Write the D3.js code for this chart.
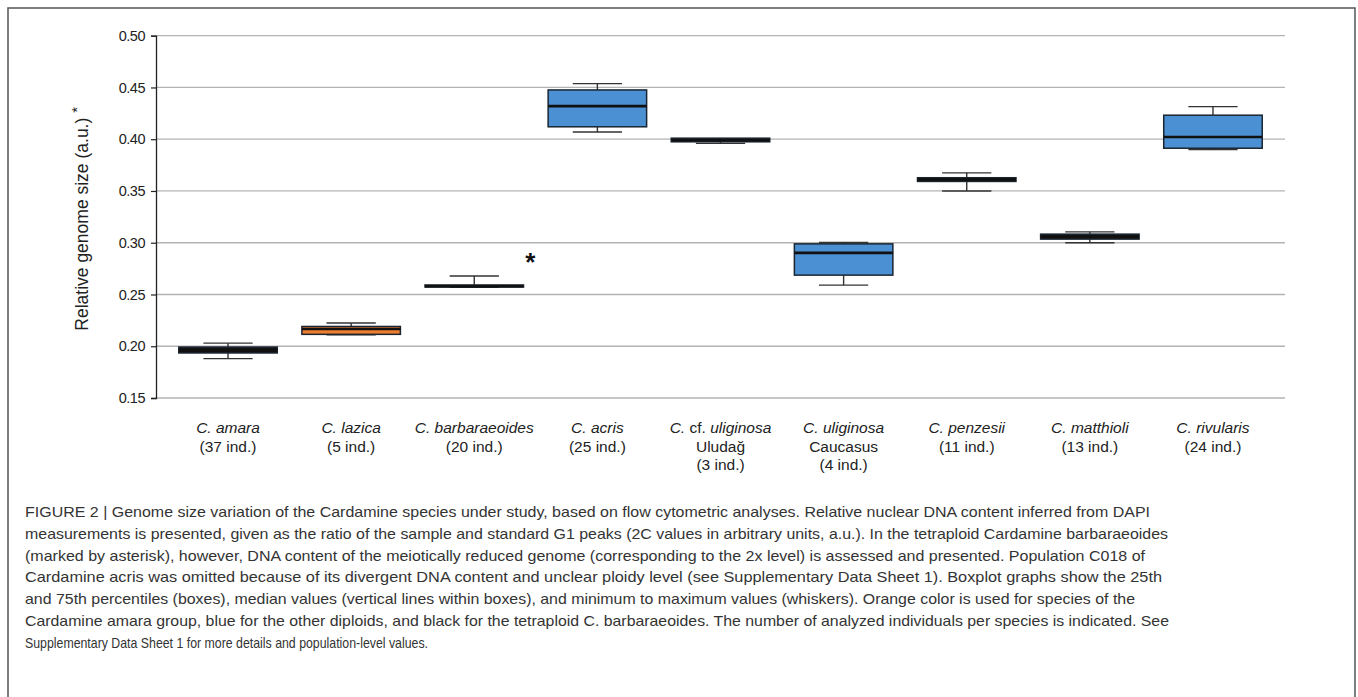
<!DOCTYPE html>
<html>
<head>
<meta charset="utf-8">
<script src="https://cdn.jsdelivr.net/npm/d3@7"></script>
<style>
  body { margin: 0; background: #fff; }
  svg { display: block; font-family: "Liberation Sans", Arial, sans-serif; }
</style>
</head>
<body>
<div id="chart"></div>
<script>
// species in plot order, with label lines below the axis
const species = ["amara", "lazica", "barbaraeoides", "acris", "uludag", "caucasus", "penzesii", "matthioli", "rivularis"];
const nameLines = [
  [["C. amara", true]],
  [["C. lazica", true]],
  [["C. barbaraeoides", true]],
  [["C. acris", true]],
  [["C. ", true], ["cf. ", false], ["uliginosa", true]],
  [["C. uliginosa", true]],
  [["C. penzesii", true]],
  [["C. matthioli", true]],
  [["C. rivularis", true]]
];
const regionLine = ["", "", "", "", "Uludağ", "Caucasus", "", "", ""];
const nInd = [37, 5, 20, 25, 3, 4, 11, 13, 24];

// boxplot values (a.u.)
const minVals = [0.188, 0.211, 0.257, 0.407, 0.396, 0.259, 0.350, 0.300, 0.390];
const q1Vals  = [0.1935, 0.2115, 0.2572, 0.412, 0.3975, 0.2687, 0.3592, 0.3035, 0.3913];
const medVals = [0.196, 0.2166, 0.258, 0.432, 0.399, 0.2902, 0.361, 0.306, 0.4022];
const q3Vals  = [0.1992, 0.2191, 0.2592, 0.4476, 0.401, 0.2989, 0.3628, 0.3083, 0.4232];
const maxVals = [0.203, 0.2224, 0.2678, 0.4537, 0.4005, 0.3002, 0.3675, 0.3105, 0.4315];
const boxFill = ["#111111", "#ED7D31", "#111111", "#4A90D2", "#111111", "#4A90D2", "#111111", "#111111", "#4A90D2"];

const yTicks = [0.15, 0.20, 0.25, 0.30, 0.35, 0.40, 0.45, 0.50];

const captionLines = [
  "FIGURE 2 | Genome size variation of the Cardamine species under study, based on flow cytometric analyses. Relative nuclear DNA content inferred from DAPI",
  "measurements is presented, given as the ratio of the sample and standard G1 peaks (2C values in arbitrary units, a.u.). In the tetraploid Cardamine barbaraeoides",
  "(marked by asterisk), however, DNA content of the meiotically reduced genome (corresponding to the 2x level) is assessed and presented. Population C018 of",
  "Cardamine acris was omitted because of its divergent DNA content and unclear ploidy level (see Supplementary Data Sheet 1). Boxplot graphs show the 25th",
  "and 75th percentiles (boxes), median values (vertical lines within boxes), and minimum to maximum values (whiskers). Orange color is used for species of the",
  "Cardamine amara group, blue for the other diploids, and black for the tetraploid C. barbaraeoides. The number of analyzed individuals per species is indicated. See",
  "Supplementary Data Sheet 1 for more details and population-level values."
];
// rendered widths of the caption lines
const captionWidths = [1125, 1143, 1120, 1137, 1110, 1144, 403];

const W = 1358, H = 697;
const plot = {left: 156, right: 1285, top: 35.7, bottom: 398};

const svg = d3.select("#chart").append("svg")
    .attr("width", W)
    .attr("height", H);

// outer frame
svg.append("rect")
    .attr("x", 8).attr("y", 8)
    .attr("width", 1347).attr("height", 700)
    .attr("fill", "none")
    .attr("stroke", "#555")
    .attr("stroke-width", 1.5);

const x = d3.scaleBand()
    .domain(species)
    .range([plot.left, plot.right])
    .paddingInner(0)
    .paddingOuter(0.085);

const y = d3.scaleLinear()
    .domain([0.15, 0.50])
    .range([plot.bottom, plot.top]);

// gridlines
svg.append("g")
    .selectAll("line")
    .data(yTicks)
    .join("line")
    .attr("x1", plot.left)
    .attr("x2", plot.right)
    .attr("y1", d => y(d))
    .attr("y2", d => y(d))
    .attr("stroke", "#b3b3b3")
    .attr("stroke-width", 1.3);

// y axis
const yAxis = svg.append("g")
    .attr("transform", `translate(${plot.left},0)`)
    .call(d3.axisLeft(y).tickValues(yTicks).tickFormat(d3.format(".2f")).tickSize(5).tickPadding(6));
yAxis.select(".domain").attr("stroke", "#222").attr("stroke-width", 1.3);
yAxis.selectAll(".tick line").attr("stroke", "#222").attr("stroke-width", 1.2);
yAxis.selectAll(".tick text")
    .attr("font-size", 14.5)
    .attr("letter-spacing", -0.5)
    .attr("fill", "#222")
    .attr("font-family", "'Liberation Sans', Arial, sans-serif");

// y title
svg.append("text")
    .attr("transform", `translate(88,${(plot.top + plot.bottom) / 2 + 2}) rotate(-90)`)
    .attr("text-anchor", "middle")
    .attr("font-size", 17.5)
    .attr("fill", "#222")
    .text("Relative genome size (a.u.) ")
    .append("tspan")
    .attr("dy", -6)
    .attr("font-size", 15)
    .text("*");

// boxes
const data = species.map((s, i) => ({
  s, min: minVals[i], q1: q1Vals[i], med: medVals[i], q3: q3Vals[i], max: maxVals[i], fill: boxFill[i]
}));

const bw = x.bandwidth() * 0.8;
const cw = x.bandwidth() * 0.4;
const cx = d => x(d.s) + x.bandwidth() / 2;

const g = svg.append("g");
const box = g.selectAll("g.box").data(data).join("g").attr("class", "box");

// whisker stems
box.append("line")
    .attr("x1", cx).attr("x2", cx)
    .attr("y1", d => y(d.max)).attr("y2", d => y(d.q3))
    .attr("stroke", "#333").attr("stroke-width", 1.4);
box.append("line")
    .attr("x1", cx).attr("x2", cx)
    .attr("y1", d => y(d.q1)).attr("y2", d => y(d.min))
    .attr("stroke", "#333").attr("stroke-width", 1.4);
// caps
box.append("line")
    .attr("x1", d => cx(d) - cw / 2).attr("x2", d => cx(d) + cw / 2)
    .attr("y1", d => y(d.max)).attr("y2", d => y(d.max))
    .attr("stroke", "#333").attr("stroke-width", 1.4);
box.append("line")
    .attr("x1", d => cx(d) - cw / 2).attr("x2", d => cx(d) + cw / 2)
    .attr("y1", d => y(d.min)).attr("y2", d => y(d.min))
    .attr("stroke", "#333").attr("stroke-width", 1.4);
// box
box.append("rect")
    .attr("x", d => cx(d) - bw / 2)
    .attr("width", bw)
    .attr("y", d => y(d.q3))
    .attr("height", d => Math.max(1, y(d.q1) - y(d.q3)))
    .attr("fill", d => d.fill)
    .attr("stroke", "#1b2530")
    .attr("stroke-width", 1.5);
// median
box.append("line")
    .attr("x1", d => cx(d) - bw / 2).attr("x2", d => cx(d) + bw / 2)
    .attr("y1", d => y(d.med)).attr("y2", d => y(d.med))
    .attr("stroke", "#111").attr("stroke-width", 2.6);

// asterisk next to C. barbaraeoides
const bIdx = species.indexOf("barbaraeoides");
svg.append("text")
    .attr("x", cx(data[bIdx]) + 56)
    .attr("y", y(maxVals[bIdx]) - 5)
    .attr("text-anchor", "middle")
    .attr("font-size", 26)
    .attr("font-weight", "bold")
    .attr("fill", "#111")
    .text("*");

// category labels
const lab = svg.append("g")
    .attr("font-size", 15.5)
    .attr("fill", "#222")
    .attr("text-anchor", "middle");

species.forEach((s, i) => {
  const xc = x(s) + x.bandwidth() / 2;
  const t1 = lab.append("text").attr("x", xc).attr("y", 433);
  nameLines[i].forEach(([txt, it]) => {
    t1.append("tspan").attr("font-style", it ? "italic" : "normal").text(txt);
  });
  let yy = 451.5;
  if (regionLine[i]) {
    lab.append("text").attr("x", xc).attr("y", yy).text(regionLine[i]);
    yy += 18.5;
  }
  lab.append("text").attr("x", xc).attr("y", yy).text(`(${nInd[i]} ind.)`);
});

// caption
const cap = svg.append("g")
    .attr("font-size", 15)
    .attr("fill", "#333");
captionLines.forEach((line, i) => {
  cap.append("text")
      .attr("x", 25)
      .attr("y", 517 + i * 21.8)
      .attr("textLength", captionWidths[i])
      .attr("lengthAdjust", "spacingAndGlyphs")
      .text(line);
});
</script>
</body>
</html>
